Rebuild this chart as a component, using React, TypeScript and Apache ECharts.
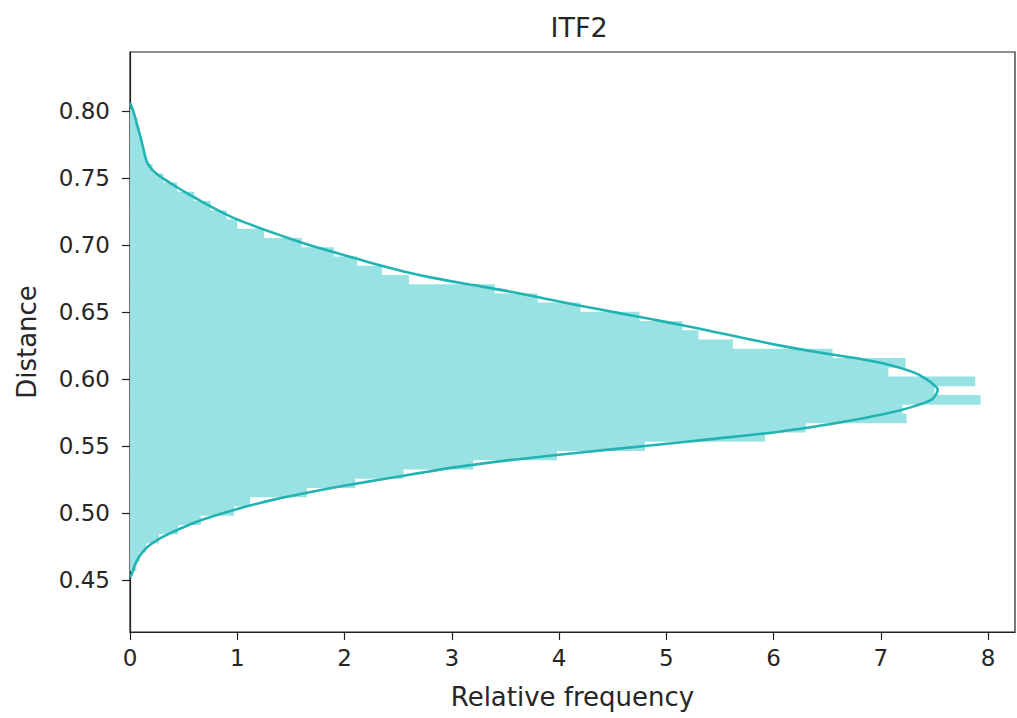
import React, { useEffect, useRef } from "react";
import * as echarts from "echarts";

const TITLE = "ITF2";
const X_NAME = "Relative frequency";
const Y_NAME = "Distance";

const X_TICKS = [0, 1, 2, 3, 4, 5, 6, 7, 8];
const Y_TICKS = [0.45, 0.5, 0.55, 0.6, 0.65, 0.7, 0.75, 0.8];

// histogram: 50 bins
const BIN_START = 0.4568;
const BIN_WIDTH = 0.0069;
const binValues = [
  0.06, 0.09, 0.15, 0.27, 0.45, 0.66, 0.97, 1.12, 1.65, 2.1,
  2.55, 3.2, 3.98, 4.8, 5.92, 6.3, 7.24, 7.2, 7.93, 7.5,
  7.88, 7.07, 7.23, 6.55, 5.62, 5.3, 5.15, 4.75, 4.2, 3.8,
  3.4, 2.6, 2.35, 2.12, 1.9, 1.6, 1.25, 1.0, 0.9, 0.75,
  0.6, 0.44, 0.31, 0.21, 0.15, 0.13, 0.11, 0.09, 0.07, 0.04,
];

// KDE curve
const kdeDistance = [
  0.452, 0.455, 0.46, 0.465, 0.47, 0.475, 0.48, 0.485, 0.49, 0.495,
  0.5, 0.505, 0.51, 0.515, 0.52, 0.525, 0.53, 0.535, 0.54, 0.545,
  0.55, 0.555, 0.56, 0.565, 0.57, 0.575, 0.58, 0.585, 0.5919, 0.595,
  0.6, 0.605, 0.61, 0.615, 0.62, 0.625, 0.63, 0.635, 0.64, 0.645,
  0.65, 0.655, 0.66, 0.665, 0.67, 0.675, 0.68, 0.685, 0.69, 0.695,
  0.7, 0.705, 0.71, 0.715, 0.72, 0.725, 0.73, 0.735, 0.74, 0.745,
  0.75, 0.755, 0.76, 0.765, 0.77, 0.78, 0.79, 0.8, 0.806,
];
const kdeDensity = [
  0.0, 0.02, 0.04, 0.07, 0.11, 0.17, 0.26, 0.38, 0.52, 0.68,
  0.88, 1.1, 1.35, 1.65, 1.98, 2.35, 2.72, 3.12, 3.62, 4.2,
  4.82, 5.42, 6.0, 6.43, 6.8, 7.1, 7.33, 7.48, 7.53, 7.5,
  7.42, 7.3, 7.1, 6.8, 6.4, 6.05, 5.75, 5.45, 5.15, 4.83,
  4.5, 4.17, 3.86, 3.55, 3.2, 2.85, 2.56, 2.32, 2.1, 1.88,
  1.67, 1.48, 1.3, 1.13, 0.97, 0.84, 0.72, 0.61, 0.5, 0.4,
  0.3, 0.22, 0.17, 0.145, 0.13, 0.1, 0.065, 0.03, 0.0,
];

const FONT = "DejaVu Sans";
const TEXT = "#262626";
const BAR_FILL = "#98e2e3";
const LINE = "#22b3b3";

export default function App() {
  const ref = useRef<HTMLDivElement>(null);

  useEffect(() => {
    if (!ref.current) return;
    const chart = echarts.init(ref.current, undefined, { renderer: "svg" });

    const histData = binValues.map((v, i) => [
      BIN_START + i * BIN_WIDTH,
      BIN_START + (i + 1) * BIN_WIDTH,
      v,
    ]);
    const kdeData = kdeDistance.map((d, i) => [kdeDensity[i], d]);

    chart.setOption({
      animation: false,
      backgroundColor: "#ffffff",
      title: {
        text: TITLE,
        left: 574,
        top: 9,
        textAlign: "center",
        textStyle: { fontFamily: FONT, fontSize: 27, fontWeight: "normal", color: TEXT },
      },
      grid: {
        left: 130,
        right: 2,
        top: 52,
        bottom: 86,
        show: true,
        borderColor: "#222",
        borderWidth: 1.2,
        backgroundColor: "transparent",
      },
      xAxis: {
        type: "value",
        min: 0,
        max: 8.25,
        name: X_NAME,
        nameLocation: "middle",
        nameGap: 52,
        nameTextStyle: { fontFamily: FONT, fontSize: 26, color: TEXT },
        axisLine: { show: true, onZero: false, lineStyle: { color: "#222", width: 1.2 } },
        axisTick: {
          show: true,
          length: 8,
          lineStyle: { color: "#222", width: 1.2 },
          customValues: X_TICKS,
        },
        axisLabel: {
          fontFamily: FONT,
          fontSize: 23,
          color: TEXT,
          margin: 14,
          customValues: X_TICKS,
          formatter: (v: number) => String(v),
        },
        splitLine: { show: false },
      },
      yAxis: {
        type: "value",
        min: 0.411,
        max: 0.844,
        name: Y_NAME,
        nameLocation: "middle",
        nameGap: 90,
        nameRotate: 90,
        nameTextStyle: { fontFamily: FONT, fontSize: 26, color: TEXT },
        axisLine: { show: true, onZero: false, lineStyle: { color: "#222", width: 1.2 } },
        axisTick: {
          show: true,
          length: 8,
          lineStyle: { color: "#222", width: 1.2 },
          customValues: Y_TICKS,
        },
        axisLabel: {
          fontFamily: FONT,
          fontSize: 23,
          color: TEXT,
          margin: 20,
          customValues: Y_TICKS,
          formatter: (v: number) => v.toFixed(2),
        },
        splitLine: { show: false },
      },
      series: [
        {
          type: "custom",
          clip: true,
          data: histData,
          encode: { x: 2, y: [0, 1] },
          renderItem: (params: any, api: any) => {
            const lo = api.value(0);
            const hi = api.value(1);
            const v = api.value(2);
            const p1 = api.coord([0, hi]);
            const p2 = api.coord([v, lo]);
            return {
              type: "rect",
              shape: { x: p1[0], y: p1[1], width: p2[0] - p1[0], height: p2[1] - p1[1] + 0.5 },
              style: { fill: BAR_FILL, stroke: null },
            };
          },
          z: 1,
        },
        {
          type: "line",
          data: kdeData,
          smooth: 0.3,
          showSymbol: false,
          symbol: "none",
          lineStyle: { color: LINE, width: 2.6 },
          z: 3,
        },
      ],
    });

    return () => chart.dispose();
  }, []);

  return (
    <div
      ref={ref}
      style={{ position: "fixed", left: 0, top: 0, width: 1017, height: 718, background: "#fff" }}
    />
  );
}
